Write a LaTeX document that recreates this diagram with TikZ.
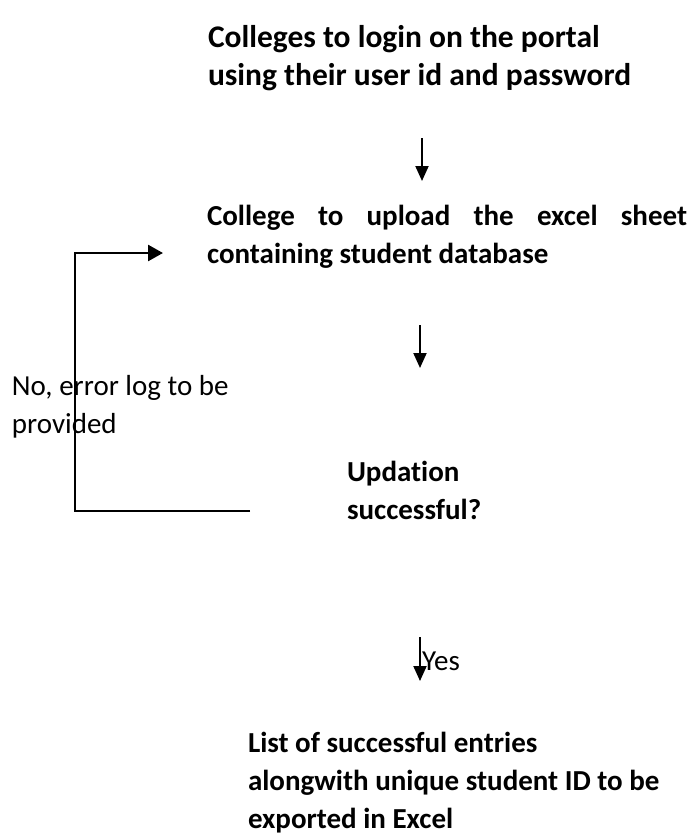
\documentclass[tikz,border=0pt]{standalone}
\usepackage{fontspec}
\setmainfont{Carlito}[Ligatures=NoCommon]
\usetikzlibrary{arrows.meta}
\tikzset{
  txt/.style={anchor=base west, inner sep=0pt, outer sep=0pt, font=\fontsize{29}{38}\selectfont},
  btxt/.style={txt, font=\fontsize{29}{38}\selectfont\bfseries},
  ttxt/.style={txt, font=\fontsize{31.5}{38}\selectfont\bfseries},
  flow/.style={line width=2pt, -{Triangle[length=15pt,width=13pt]}},
  back/.style={line width=2.6pt, -{Triangle[length=15pt,width=16pt]}}
}
\begin{document}
\begin{tikzpicture}[x=1pt,y=-1pt]
\useasboundingbox (0,0) rectangle (693,836);
\node[ttxt] (login) at (208,47) {\parbox[t]{480pt}{Colleges to login on the portal\\using their user id and password}};
\node[btxt] (upload) at (207,225) {\parbox[t]{480pt}{\makebox[480pt][s]{College to upload the excel sheet}\\containing student database}};
\node[txt] (nolabel) at (12,395) {\parbox[t]{250pt}{No, error log to be\\provided}};
\node[btxt] (check) at (347,481) {\parbox[t]{250pt}{Updation\\successful?}};
\node[txt] (yes) at (422,670) {Yes};
\node[btxt] (result) at (248,752) {\parbox[t]{440pt}{List of successful entries\\alongwith unique student ID to be\\exported in Excel}};
\coordinate (a1s) at (422,138);
\coordinate (a1e) at (422,181);
\coordinate (a2s) at (420,325);
\coordinate (a2e) at (420,368);
\coordinate (a3s) at (420,637);
\coordinate (a3e) at (420,681);
\coordinate (fb0) at (250,511);
\coordinate (fb1) at (75,511);
\coordinate (fb2) at (75,253);
\coordinate (fb3) at (163,253);
\draw[flow] (a1s) -- (a1e);
\draw[flow] (a2s) -- (a2e);
\draw[flow] (a3s) -- (a3e);
\draw[back] (fb0) -- (fb1) -- (fb2) -- (fb3);
\end{tikzpicture}
\end{document}
